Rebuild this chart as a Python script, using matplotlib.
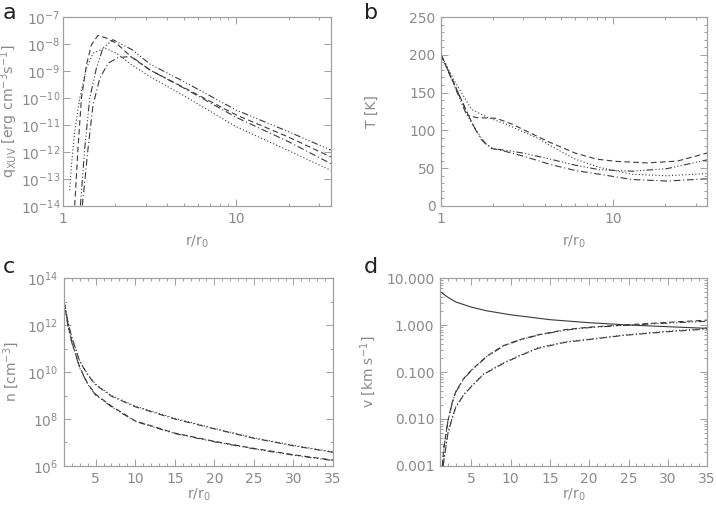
import numpy as np
import matplotlib
matplotlib.use("Agg")
import matplotlib.pyplot as plt
from matplotlib.ticker import FixedLocator, FuncFormatter, NullFormatter, LogLocator, MultipleLocator

# ---------------- data ----------------
# panel a: heating rate q_XUV (log10 values) vs r/r0
qa_dashed_r = [1.168, 1.22, 1.277, 1.365, 1.459, 1.59, 1.78, 2.03, 2.5, 3.17, 5, 10, 20, 35]
qa_dashed_lg = [-13.98, -11.87, -10.01, -8.77, -8.03, -7.68, -7.78, -7.97, -8.5, -8.96, -9.62, -10.63, -11.45, -12.18]
qa_dotted_r = [1.093, 1.118, 1.168, 1.248, 1.365, 1.49, 1.74, 2.03, 2.5, 3.17, 5, 10, 20, 35]
qa_dotted_lg = [-13.42, -12.49, -11.25, -10.01, -8.9, -8.34, -8.15, -8.34, -8.78, -9.21, -9.92, -11.07, -11.95, -12.68]
qa_dd3_r = [1.26, 1.334, 1.426, 1.557, 1.70, 1.94, 2.5, 3.17, 5, 10, 20, 35]
qa_dd3_lg = [-13.98, -11.87, -10.01, -8.9, -8.15, -7.84, -8.21, -8.74, -9.40, -10.45, -11.25, -11.93]
qa_dd_r = [1.293, 1.394, 1.49, 1.63, 1.82, 2.08, 2.48, 3.17, 5, 10, 20, 35]
qa_dd_lg = [-13.98, -11.87, -10.26, -9.27, -8.71, -8.5, -8.46, -8.96, -9.64, -10.72, -11.62, -12.43]

# panel b: temperature T [K]
tb_dashed_r = [1, 1.2, 1.44, 1.6, 2.1, 2.6, 3.2, 4.3, 6, 8, 10.4, 15.7, 23.5, 35]
tb_dashed_T = [200, 160, 120, 117, 116, 108, 98, 84, 70, 62, 59, 57, 59.4, 70]
tb_dotted_r = [1, 1.2, 1.5, 1.87, 2.34, 3, 3.7, 4.3, 6, 8.3, 12.9, 20.5, 35]
tb_dotted_T = [200, 165, 128, 117, 109, 98, 89, 80, 62, 51, 42, 40, 43]
tb_dd3_r = [1, 1.2, 1.38, 1.6, 1.8, 2.0, 2.3, 3, 4.3, 6, 8.3, 12.9, 20.5, 35]
tb_dd3_T = [200, 158, 125, 100, 83, 76, 74, 70, 62, 54, 48, 46, 49.4, 61]
tb_dd_r = [1, 1.2, 1.375, 1.55, 1.71, 1.96, 2.2, 3, 4.3, 6, 8.3, 12.9, 20.5, 35]
tb_dd_T = [200, 160, 130, 105, 88, 76, 74, 66, 55, 47, 42, 35, 33, 36]

# panel c: density n (log10)
nc_r = [1, 1.5, 2, 3, 4, 5, 7, 10, 15, 20, 25, 30, 35]
nc_upper_a_lg = [13.0, 12.15, 11.47, 10.47, 9.9, 9.48, 9.0, 8.55, 8.03, 7.6, 7.2, 6.88, 6.6]
nc_upper_b_lg = [13.0, 12.12, 11.44, 10.44, 9.87, 9.45, 8.97, 8.52, 8.0, 7.58, 7.18, 6.86, 6.58]
nc_lower_a_lg = [13.0, 12.0, 11.26, 10.19, 9.5, 9.05, 8.55, 7.92, 7.4, 7.05, 6.75, 6.48, 6.25]
nc_lower_b_lg = [13.0, 11.97, 11.23, 10.16, 9.47, 9.02, 8.52, 7.9, 7.38, 7.03, 6.73, 6.46, 6.23]

# panel d: velocity v [km/s]
vd_sound_r = [1, 2, 3, 5, 7, 10, 15, 20, 25, 30, 35]
vd_sound_v = [5.2, 3.9, 3.1, 2.4, 2.0, 1.65, 1.3, 1.12, 1.0, 0.92, 0.85]
vd_up_r = [1.3, 1.5, 2, 2.5, 3, 4, 5, 7, 9, 11, 13.5, 17, 20, 24.3, 30, 35]
vd_dashed_v = [0.001, 0.0025, 0.009, 0.021, 0.038, 0.072, 0.11, 0.22, 0.36, 0.48, 0.62, 0.8, 0.9, 1.0, 1.14, 1.27]
vd_dd3_v = [0.001, 0.0024, 0.0088, 0.020, 0.037, 0.070, 0.108, 0.215, 0.35, 0.47, 0.61, 0.78, 0.88, 0.98, 1.1, 1.2]
vd_lo_r = [1.4, 1.6, 2, 2.5, 3, 4, 5, 6.5, 9, 11, 13.5, 17, 20, 24.3, 30, 35]
vd_dotted_v = [0.001, 0.0018, 0.005, 0.01, 0.018, 0.033, 0.05, 0.09, 0.155, 0.22, 0.33, 0.44, 0.5, 0.61, 0.74, 0.85]
vd_dd_v = [0.001, 0.0017, 0.0048, 0.0097, 0.0175, 0.032, 0.049, 0.088, 0.15, 0.215, 0.32, 0.43, 0.49, 0.6, 0.72, 0.82]

# ---------------- style ----------------
TXT = '#8a8a8a'
SPN = '#a0a0a0'
LN = '#3a3a3a'
LW = 0.8
DASHED = (0, (5, 3))
DOTTED = (0, (1, 2))
DASHDOT = (0, (6, 2.5, 1, 2.5))
DASH3DOT = (0, (6, 2, 1, 2, 1, 2, 1, 2))
FS = 10

plt.rcParams['font.family'] = ['DejaVu Sans']
plt.rcParams['font.size'] = FS

fig = plt.figure(figsize=(7.16, 5.08), dpi=100)
axa = fig.add_axes([0.088, 0.5945, 0.374, 0.372])
axb = fig.add_axes([0.616, 0.5945, 0.3715, 0.372])
axc = fig.add_axes([0.0894, 0.0827, 0.3757, 0.370])
axd = fig.add_axes([0.6145, 0.0827, 0.373, 0.370])


def style(ax):
    for s in ax.spines.values():
        s.set_color(SPN)
        s.set_linewidth(0.9)
    ax.tick_params(which='both', direction='in', top=True, right=True,
                   colors=SPN, labelcolor=TXT, labelsize=FS, width=0.7)
    ax.tick_params(which='major', length=5, pad=4)
    ax.tick_params(which='minor', length=2.5)


# panel a
axa.plot(qa_dashed_r, 10 ** np.array(qa_dashed_lg), color=LN, lw=LW, ls=DASHED)
axa.plot(qa_dotted_r, 10 ** np.array(qa_dotted_lg), color=LN, lw=LW, ls=DOTTED)
axa.plot(qa_dd3_r, 10 ** np.array(qa_dd3_lg), color=LN, lw=LW, ls=DASH3DOT)
axa.plot(qa_dd_r, 10 ** np.array(qa_dd_lg), color=LN, lw=LW, ls=DASHDOT)
axa.set_xscale('log')
axa.set_yscale('log')
axa.set_xlim(1, 35)
axa.set_ylim(1e-14, 1e-7)
axa.xaxis.set_major_locator(FixedLocator([1, 10]))
axa.xaxis.set_major_formatter(FuncFormatter(lambda v, p: '%d' % v))
axa.xaxis.set_minor_locator(FixedLocator([2, 3, 4, 5, 6, 7, 8, 9, 20, 30]))
axa.xaxis.set_minor_formatter(NullFormatter())
axa.yaxis.set_major_locator(FixedLocator([10.0 ** k for k in range(-14, -6)]))
axa.yaxis.set_minor_locator(FixedLocator([]))
axa.yaxis.set_major_formatter(FuncFormatter(lambda v, p: r'$10^{%d}$' % round(np.log10(v))))
axa.set_ylabel(r'q$_{\rm XUV}$ [erg cm$^{-3}$s$^{-1}$]', color=TXT, fontsize=10.2)
axa.yaxis.set_label_coords(-0.16, 0.5)
axa.set_xlabel(r'r/r$_0$', color=TXT, labelpad=6)
style(axa)
axa.tick_params(axis='y', which='major', pad=2)

# panel b
axb.plot(tb_dashed_r, tb_dashed_T, color=LN, lw=LW, ls=DASHED)
axb.plot(tb_dotted_r, tb_dotted_T, color=LN, lw=LW, ls=DOTTED)
axb.plot(tb_dd3_r, tb_dd3_T, color=LN, lw=LW, ls=DASH3DOT)
axb.plot(tb_dd_r, tb_dd_T, color=LN, lw=LW, ls=DASHDOT)
axb.set_xscale('log')
axb.set_xlim(1, 35)
axb.set_ylim(0, 250)
axb.xaxis.set_major_locator(FixedLocator([1, 10]))
axb.xaxis.set_major_formatter(FuncFormatter(lambda v, p: '%d' % v))
axb.xaxis.set_minor_locator(FixedLocator([2, 3, 4, 5, 6, 7, 8, 9, 20, 30]))
axb.xaxis.set_minor_formatter(NullFormatter())
axb.yaxis.set_major_locator(MultipleLocator(50))
axb.yaxis.set_minor_locator(MultipleLocator(10))
axb.set_ylabel('T [K]', color=TXT, labelpad=22)
axb.set_xlabel(r'r/r$_0$', color=TXT, labelpad=6)
style(axb)

# panel c
axc.plot(nc_r, 10 ** np.array(nc_upper_a_lg), color=LN, lw=LW, ls=DOTTED)
axc.plot(nc_r, 10 ** np.array(nc_upper_b_lg), color=LN, lw=LW, ls=DASHDOT)
axc.plot(nc_r, 10 ** np.array(nc_lower_a_lg), color=LN, lw=LW, ls=DASHED)
axc.plot(nc_r, 10 ** np.array(nc_lower_b_lg), color=LN, lw=LW, ls=DASH3DOT)
axc.set_yscale('log')
axc.set_xlim(1, 35)
axc.set_ylim(1e6, 1e14)
axc.xaxis.set_major_locator(FixedLocator([5, 10, 15, 20, 25, 30, 35]))
axc.xaxis.set_minor_locator(MultipleLocator(1))
axc.yaxis.set_major_locator(FixedLocator([1e6, 1e8, 1e10, 1e12, 1e14]))
axc.yaxis.set_minor_locator(FixedLocator([1e7, 1e9, 1e11, 1e13]))
axc.yaxis.set_minor_formatter(NullFormatter())
axc.yaxis.set_major_formatter(FuncFormatter(lambda v, p: r'$10^{%d}$' % round(np.log10(v))))
axc.set_ylabel(r'n [cm$^{-3}$]', color=TXT, labelpad=4)
axc.set_xlabel(r'r/r$_0$', color=TXT, labelpad=1)
style(axc)

# panel d
axd.plot(vd_sound_r, vd_sound_v, color=LN, lw=LW, ls='-')
axd.plot(vd_up_r, vd_dashed_v, color=LN, lw=LW, ls=DASHED)
axd.plot(vd_up_r, vd_dd3_v, color=LN, lw=LW, ls=DASH3DOT)
axd.plot(vd_lo_r, vd_dotted_v, color=LN, lw=LW, ls=DOTTED)
axd.plot(vd_lo_r, vd_dd_v, color=LN, lw=LW, ls=DASHDOT)
axd.set_yscale('log')
axd.set_xlim(1, 35)
axd.set_ylim(1e-3, 10)
axd.xaxis.set_major_locator(FixedLocator([5, 10, 15, 20, 25, 30, 35]))
axd.xaxis.set_minor_locator(MultipleLocator(1))
axd.yaxis.set_major_locator(FixedLocator([1e-3, 1e-2, 1e-1, 1, 10]))
axd.yaxis.set_minor_locator(LogLocator(base=10, subs=np.arange(2, 10), numticks=20))
axd.yaxis.set_minor_formatter(NullFormatter())
axd.yaxis.set_major_formatter(FuncFormatter(lambda v, p: '%.3f' % v))
axd.set_ylabel(r'v [km s$^{-1}$]', color=TXT, labelpad=6)
axd.set_xlabel(r'r/r$_0$', color=TXT, labelpad=1)
style(axd)

# panel letters
for lab, x, y in [('a', 0.004, 0.975), ('b', 0.508, 0.975), ('c', 0.004, 0.475), ('d', 0.508, 0.475)]:
    fig.text(x, y, lab, fontsize=16, color='#222222', ha='left', va='center')

fig.savefig('out.png', dpi=100)
